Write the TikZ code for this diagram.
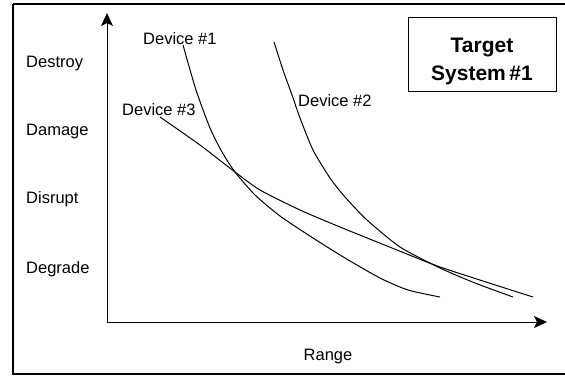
\documentclass[tikz,border=0pt]{standalone}
\usepackage{fontspec}
\setmainfont{Liberation Sans}
\usetikzlibrary{arrows.meta}

\begin{document}
\begin{tikzpicture}[x=1pt, y=-1pt,
		lbl/.style={anchor=base west, inner sep=0pt, font=\fontsize{16.5}{19}\selectfont},
		curve/.style={line width=1pt, smooth, tension=0.4},
		axis/.style={line width=1pt, -{Stealth[length=13pt, width=12pt, inset=3pt]}}]
		% Frame and bounding box:
		\useasboundingbox (0,0) rectangle (565,376);
		\draw[line width=2pt] (13,4) -- (13,374) -- (575,374);
		\draw[line width=2pt] (13,4) -- (575,4);
		% Axes:
		\coordinate (origin) at (107, 322);
		\coordinate (ytop) at (107, 13);
		\coordinate (xend) at (547, 322);
		\draw[axis] (origin) -- (ytop);
		\draw[axis] (origin) -- (xend);
		% Levels:
		\node[lbl] (destroy) at (26, 67){Destroy};
		\node[lbl] (damage) at (26, 135){Damage};
		\node[lbl] (disrupt) at (26, 203){Disrupt};
		\node[lbl] (degrade) at (26, 273){Degrade};
		\node[lbl, anchor=base] (range) at (328, 360){Range};
		% Devices:
		\node[lbl] (dev1) at (143, 44){Device \#1};
		\node[lbl] (dev2) at (298, 106){Device \#2};
		\node[lbl] (dev3) at (122, 115){Device \#3};
		\draw[curve] plot coordinates {(183,45) (196,90) (210,128) (222,152) (235,172) (255,195) (280,216) (313,238) (345,258) (380,278) (408,290) (440,297)};
		\draw[curve] plot coordinates {(274,42) (283,70) (292,95) (300,118) (313,150) (330,178) (345,197) (367,220) (400,247) (440,268) (475,283) (513,297)};
		\draw[curve] plot coordinates {(160,117) (200,145) (235,172) (260,190) (300,210) (340,227) (397,250) (443,268) (533,297)};
		% Target box:
		\node[draw, line width=1pt, minimum width=148pt, minimum height=74pt, inner sep=0pt] (target) at (482, 54){};
		\node[anchor=base, inner sep=0pt, font=\fontsize{21}{28}\bfseries] (tline1) at (482, 52){Target};
		\node[anchor=base, inner sep=0pt, font=\fontsize{21}{28}\bfseries] (tline2) at (482, 80){System\,\#1};
	\end{tikzpicture}
\end{document}
